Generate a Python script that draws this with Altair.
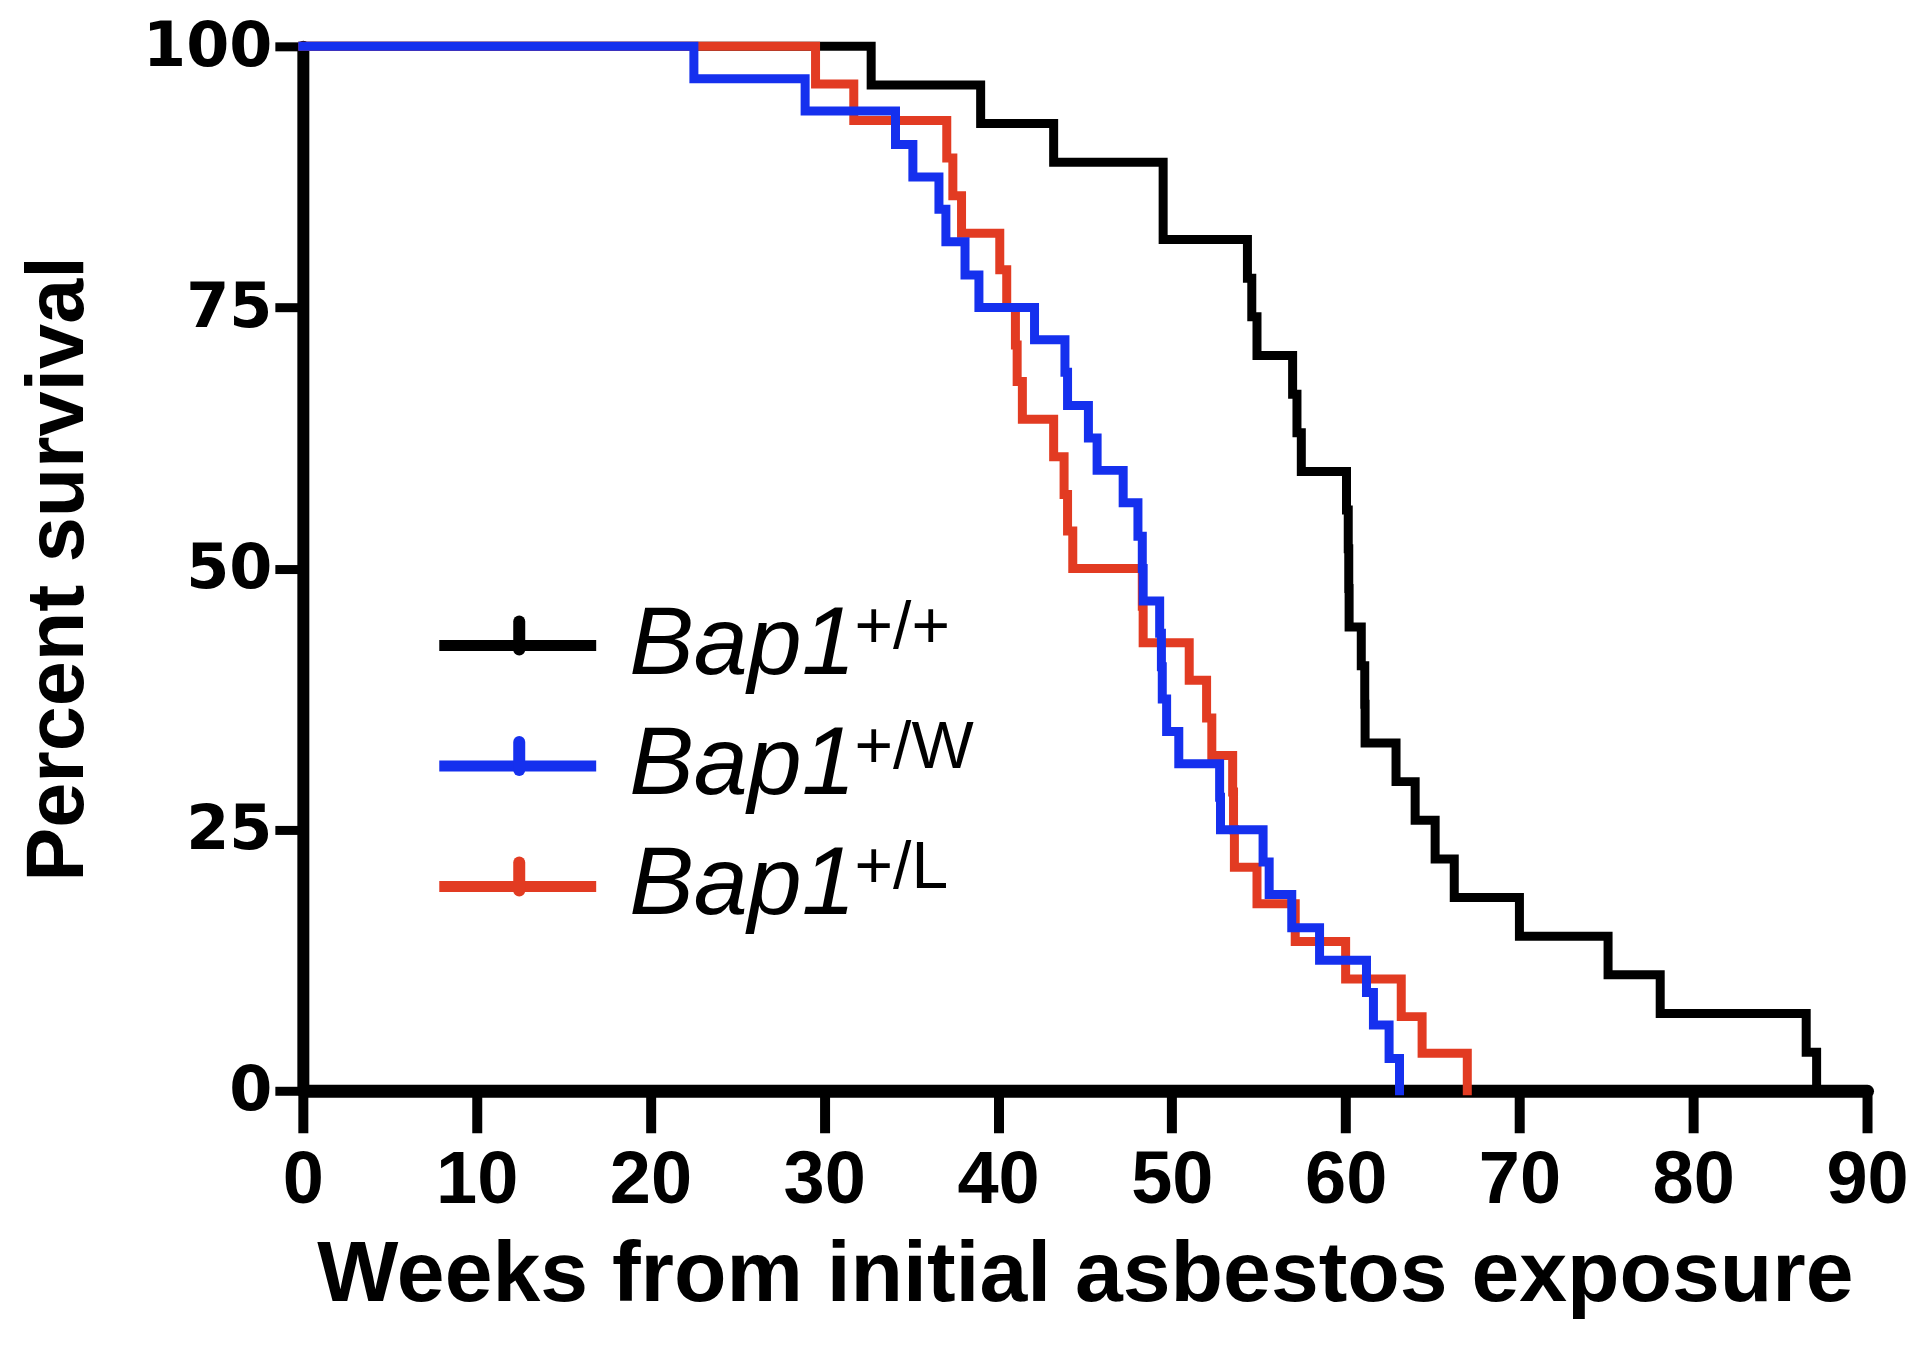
import altair as alt
import pandas as pd

# Kaplan-Meier steps (week of each drop, survival % after it)
weeks_wt = [0, 32.7, 39.0, 43.2, 49.5, 54.35, 54.6, 54.9, 56.95, 57.2, 57.45, 60.05, 60.15, 60.18, 60.2,
            60.9, 61.1, 61.12, 62.9, 64.0, 65.15, 66.25, 70.0, 75.1, 78.1, 86.5, 87.1]
pct_wt = [100, 96.3, 92.6, 88.9, 81.5, 77.8, 74.1, 70.4, 66.7, 63.0, 59.3, 55.6, 51.9, 48.1, 44.4,
          40.7, 37.0, 33.3, 29.6, 25.9, 22.2, 18.5, 14.8, 11.1, 7.4, 3.7, 0]

weeks_w = [0, 22.5, 28.9, 34.1, 35.1, 36.6, 37.0, 38.1, 38.9, 42.1, 43.85, 44.0, 45.2, 45.7, 47.2,
           48.05, 48.3, 48.35, 49.3, 49.4, 49.45, 49.7, 50.4, 52.75, 52.8, 55.25, 55.6, 56.9, 58.5,
           61.2, 61.6, 62.5, 63.1]
pct_w = [100, 96.9, 93.8, 90.6, 87.5, 84.4, 81.3, 78.1, 75.0, 71.9, 68.8, 65.6, 62.5, 59.4, 56.3,
         53.1, 50.0, 46.9, 43.8, 40.6, 37.5, 34.4, 31.3, 28.1, 25.0, 21.9, 18.8, 15.6, 12.5,
         9.4, 6.3, 3.1, 0]

weeks_l = [0, 29.5, 31.7, 37.05, 37.4, 37.9, 40.1, 40.5, 41.0, 41.1, 41.4, 43.2, 43.8, 44.0, 44.3,
           48.3, 48.35, 51.0, 52.0, 52.3, 53.5, 53.55, 53.6, 54.9, 57.1, 60.0, 63.2, 64.4, 67.0]
pct_l = [100, 96.4, 92.9, 89.3, 85.7, 82.1, 78.6, 75.0, 71.4, 67.9, 64.3, 60.7, 57.1, 53.6, 50.0,
         46.4, 42.9, 39.3, 35.7, 32.1, 28.6, 25.0, 21.4, 17.9, 14.3, 10.7, 7.1, 3.6, 0]

groups = ["Bap1+/+", "Bap1+/W", "Bap1+/L"]
colors = ["#000000", "#1530ee", "#e23b22"]
superscripts = ["+/+", "+/W", "+/L"]

curves = pd.concat([
    pd.DataFrame({"group": g, "week": w, "pct": p})
    for g, w, p in zip(groups, [weeks_wt, weeks_w, weeks_l], [pct_wt, pct_w, pct_l])
])

W, H = 1565, 1045

x_enc = alt.X("week:Q", scale=alt.Scale(domain=[0, 90], nice=False),
              axis=alt.Axis(values=list(range(0, 91, 10)), title="Weeks from initial asbestos exposure",
                            titleY=210, titleBaseline="alphabetic"))
y_enc = alt.Y("pct:Q", scale=alt.Scale(domain=[0, 100], nice=False),
              axis=alt.Axis(values=[0, 25, 50, 75, 100], title="Percent survival",
                            titleX=-220, titleY=H / 2, titleBaseline="alphabetic", titleAngle=270))

layers = []
# black first, blue last (blue sits on top like the original)
for g in [groups[0], groups[2], groups[1]]:
    layers.append(
        alt.Chart(curves).transform_filter(alt.datum.group == g)
        .mark_line(interpolate="step-after", strokeWidth=9, strokeJoin="miter", strokeCap="square")
        .encode(x=x_enc, y=y_enc,
                color=alt.Color("group:N", scale=alt.Scale(domain=groups, range=colors), legend=None))
    )

# hand-drawn legend with italic gene name + superscript genotype
for i, (sup, col) in enumerate(zip(superscripts, colors)):
    ly = 599.5 + 120.5 * i
    one = alt.Chart(pd.DataFrame({"k": [0]}))
    layers.append(one.mark_rule(color=col, strokeWidth=11).encode(
        x=alt.value(136.5), x2=alt.value(293.5), y=alt.value(ly)))
    layers.append(one.mark_rule(color=col, strokeWidth=12, strokeCap="round").encode(
        x=alt.value(216.5), y=alt.value(ly - 24), y2=alt.value(ly + 4)))
    layers.append(one.mark_text(font="Liberation Sans", fontStyle="italic", fontSize=97,
                                align="left", baseline="alphabetic", color="black").encode(
        x=alt.value(326.5), y=alt.value(ly + 28), text=alt.value("Bap1")))
    layers.append(one.mark_text(font="Liberation Sans", fontSize=66,
                                align="left", baseline="alphabetic", color="black").encode(
        x=alt.value(552), y=alt.value(ly + 2), text=alt.value(sup)))

chart = alt.layer(*layers).properties(
    width=W, height=H,
    padding={"left": 295, "top": 38, "right": 45, "bottom": 250},
    autosize=alt.AutoSizeParams(type="none"),
).configure_view(stroke=None).configure_axis(
    grid=False, domainColor="black", tickColor="black", labelColor="black", titleColor="black",
    domainCap="round", labelFlush=False, labelOverlap=False,
).configure_axisX(
    domainWidth=13, tickWidth=10, tickSize=42, labelFont="Liberation Sans", labelFontSize=74,
    labelFontWeight="bold", labelPadding=12, titleFont="Liberation Sans", titleFontSize=86,
    titleFontWeight="bold",
).configure_axisY(
    domainWidth=12, tickWidth=9, tickSize=28, labelFont="DejaVu Sans", labelFontSize=62,
    labelFontWeight="bold", labelPadding=3, titleFont="Liberation Sans", titleFontSize=81,
    titleFontWeight="bold",
)

chart.save("out.html", embed_options={"renderer": "svg", "actions": False})
